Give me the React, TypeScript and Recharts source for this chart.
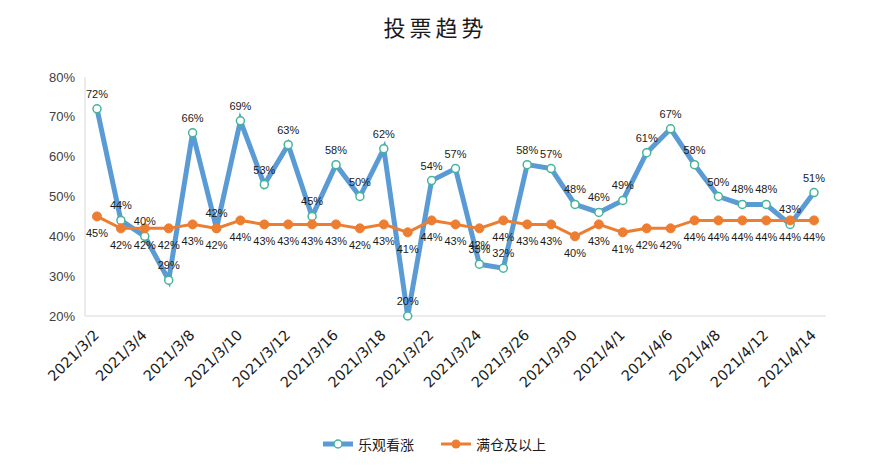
import React from 'react';
import { LineChart, Line, XAxis, YAxis, LabelList } from 'recharts';

const dates = [
  '2021/3/2', '2021/3/3', '2021/3/4', '2021/3/5', '2021/3/8', '2021/3/9', '2021/3/10', '2021/3/11',
  '2021/3/12', '2021/3/15', '2021/3/16', '2021/3/17', '2021/3/18', '2021/3/19', '2021/3/22', '2021/3/23',
  '2021/3/24', '2021/3/25', '2021/3/26', '2021/3/29', '2021/3/30', '2021/3/31', '2021/4/1', '2021/4/2',
  '2021/4/6', '2021/4/7', '2021/4/8', '2021/4/9', '2021/4/12', '2021/4/13', '2021/4/14',
];

const bullish = [72, 44, 40, 29, 66, 42, 69, 53, 63, 45, 58, 50, 62, 20, 54, 57, 33, 32, 58, 57, 48, 46, 49, 61, 67, 58, 50, 48, 48, 43, 51];
const fullPosition = [45, 42, 42, 42, 43, 42, 44, 43, 43, 43, 43, 42, 43, 41, 44, 43, 42, 44, 43, 43, 40, 43, 41, 42, 42, 44, 44, 44, 44, 44, 44];

const yTicks = [20, 30, 40, 50, 60, 70, 80];

const seriesNames = ['乐观看涨', '满仓及以上'];

const BLUE = '#5b9bd5';
const ORANGE = '#ed7d31';
const DOT_GREEN = '#45b59a';

const data = dates.map((d, i) => ({ date: d, bullish: bullish[i], full: fullPosition[i] }));

const pct = (v: any) => `${v}%`;

const DateTick = (props: any) => {
  const { x, y, payload } = props;
  const ax = x + 3;
  const ay = y + 18;
  return (
    <text
      x={ax}
      y={ay}
      transform={`rotate(-45, ${ax}, ${ay})`}
      textAnchor="end"
      fontSize={14.5}
      fontFamily="DejaVu Sans"
      fill="#1a1a1a"
    >
      {payload.value}
    </text>
  );
};

export default function App() {
  return (
    <div style={{ position: 'absolute', left: 0, top: 0, width: 871, height: 472, background: '#fff' }}>
      <div
        style={{
          position: 'absolute',
          top: 10,
          width: 871,
          textAlign: 'center',
          fontFamily: '"Noto Sans CJK SC"',
          fontSize: 22,
          letterSpacing: 4,
          color: '#1a1a1a',
        }}
      >
        投票趋势
      </div>
      <LineChart width={871} height={472} data={data} margin={{ top: 77, right: 45, bottom: 56, left: 0 }}>
        <XAxis
          dataKey="date"
          interval={1}
          padding={{ left: 12, right: 12 }}
          axisLine={{ stroke: '#d9d9d9' }}
          tickLine={false}
          tickSize={0}
          height={100}
          tick={<DateTick />}
        />
        <YAxis
          width={85}
          domain={[20, 80]}
          ticks={yTicks}
          tickFormatter={pct}
          axisLine={{ stroke: '#d9d9d9' }}
          tickLine={false}
          tickSize={0}
          tickMargin={10}
          tick={{ fill: '#404040', fontSize: 13, fontFamily: 'Liberation Sans' }}
        />
        <Line
          dataKey="bullish"
          name={seriesNames[0]}
          stroke={BLUE}
          strokeWidth={5}
          dot={{ r: 4, fill: '#fff', stroke: DOT_GREEN, strokeWidth: 1.5 }}
          isAnimationActive={false}
        >
          <LabelList dataKey="bullish" position="top" offset={11} formatter={pct} fontSize={11} fontFamily="Liberation Sans" fill="#1a1a1a" />
        </Line>
        <Line
          dataKey="full"
          name={seriesNames[1]}
          stroke={ORANGE}
          strokeWidth={3}
          dot={{ r: 4.5, fill: ORANGE, stroke: ORANGE, strokeWidth: 1 }}
          isAnimationActive={false}
        >
          <LabelList dataKey="full" position="bottom" offset={13} formatter={pct} fontSize={11} fontFamily="Liberation Sans" fill="#1a1a1a" />
        </Line>
      </LineChart>
      <div
        style={{
          position: 'absolute',
          top: 434,
          left: 322,
          display: 'flex',
          alignItems: 'center',
          fontFamily: '"Noto Sans CJK SC"',
          fontSize: 14,
          color: '#1a1a1a',
        }}
      >
        <svg width={32} height={16}>
          <line x1={1} y1={8} x2={31} y2={8} stroke={BLUE} strokeWidth={5} />
          <circle cx={16} cy={8} r={4} fill="#fff" stroke={DOT_GREEN} strokeWidth={1.5} />
        </svg>
        <span style={{ marginLeft: 4 }}>{seriesNames[0]}</span>
        <svg width={32} height={16} style={{ marginLeft: 26 }}>
          <line x1={1} y1={8} x2={31} y2={8} stroke={ORANGE} strokeWidth={3} />
          <circle cx={16} cy={8} r={4.5} fill={ORANGE} />
        </svg>
        <span style={{ marginLeft: 4 }}>{seriesNames[1]}</span>
      </div>
    </div>
  );
}
